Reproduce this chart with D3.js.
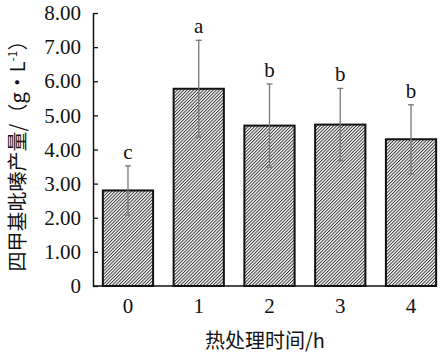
<!DOCTYPE html>
<html><head><meta charset="utf-8">
<script src="https://cdn.jsdelivr.net/npm/d3@7"></script>
<style>body{margin:0;background:#fff}svg{display:block}</style>
</head><body>
<script>
const categories = ["0","1","2","3","4"];
const values = [2.80, 5.78, 4.70, 4.73, 4.30];
const errors = [0.72, 1.42, 1.22, 1.06, 1.01];
const letters = ["c","a","b","b","b"];
const yTicks = [0,1,2,3,4,5,6,7,8];
const yTickLabels = ["0","1.00","2.00","3.00","4.00","5.00","6.00","7.00","8.00"];

const W=448,H=355;
const svg=d3.select("body").append("svg").attr("width",W).attr("height",H);
const serif="'Liberation Serif','Times New Roman',serif";
const cjk="'Noto Sans CJK SC','Liberation Serif',serif";

const y=d3.scaleLinear().domain([0,8]).range([286,13]);
const x=d3.scaleBand().domain(categories).range([92.6,446.4]).paddingInner(0.29).paddingOuter(0.145);

const defs=svg.append("defs");
const pat=defs.append("pattern").attr("id","hatch").attr("patternUnits","userSpaceOnUse")
  .attr("width",2.3).attr("height",4).attr("patternTransform","rotate(45)");
pat.append("rect").attr("width",2.3).attr("height",4).attr("fill","#fff");
pat.append("line").attr("x1",0.5).attr("y1",0).attr("x2",0.5).attr("y2",4).attr("stroke","#222").attr("stroke-width",0.9);

// bars
svg.selectAll("rect.bar").data(values).join("rect").attr("class","bar")
  .attr("x",(d,i)=>x(categories[i])).attr("width",x.bandwidth())
  .attr("y",d=>y(d)).attr("height",d=>y(0)-y(d))
  .attr("fill","url(#hatch)").attr("stroke","#111").attr("stroke-width",2);

// error bars
const eg=svg.append("g").attr("stroke","#777").attr("stroke-width",1.3);
values.forEach((v,i)=>{
  const cx=x(categories[i])+x.bandwidth()/2;
  eg.append("line").attr("x1",cx).attr("x2",cx).attr("y1",y(v+errors[i])).attr("y2",y(v-errors[i]));
  eg.append("line").attr("x1",cx-3).attr("x2",cx+3).attr("y1",y(v+errors[i])).attr("y2",y(v+errors[i]));
  eg.append("line").attr("x1",cx-3).attr("x2",cx+3).attr("y1",y(v-errors[i])).attr("y2",y(v-errors[i]));
  svg.append("text").attr("x",cx).attr("y",y(v+errors[i])-7).attr("text-anchor","middle")
    .attr("font-family",serif).attr("font-size",21).attr("fill","#111").text(letters[i]);
});

// y axis
const ya=d3.axisLeft(y).tickValues(yTicks).tickFormat((d,i)=>yTickLabels[i]).tickSizeInner(-5).tickSizeOuter(0).tickPadding(12);
const gy=svg.append("g").attr("transform","translate(93,0)").call(ya);
gy.select(".domain").attr("stroke","#111").attr("stroke-width",1.5);
gy.selectAll(".tick line").attr("stroke","#111").attr("stroke-width",1.3);
gy.selectAll("text").attr("font-family",serif).attr("font-size",21).attr("fill","#111");

// x axis
const xa=d3.axisBottom(x).tickSize(0).tickPadding(12);
const gx=svg.append("g").attr("transform","translate(0,286)").call(xa);
gx.select(".domain").attr("d","M93,0H437").attr("stroke","#111").attr("stroke-width",1.5);
gx.selectAll("text").attr("font-family",serif).attr("font-size",21).attr("fill","#111");

// titles
svg.append("text").attr("x",265).attr("y",348).attr("text-anchor","middle")
  .attr("font-family",cjk).attr("font-size",20).attr("fill","#111")
  .text("热处理时间/h");
const yt=svg.append("text").attr("transform","translate(25,151) rotate(-90)").attr("text-anchor","middle")
  .attr("font-family",cjk).attr("font-size",20).attr("fill","#111");
yt.append("tspan").text("四甲基吡嗪产量/（g•L");
yt.append("tspan").attr("font-size",12).attr("baseline-shift","super").text("-1");
yt.append("tspan").text("）");
</script>
</body></html>
